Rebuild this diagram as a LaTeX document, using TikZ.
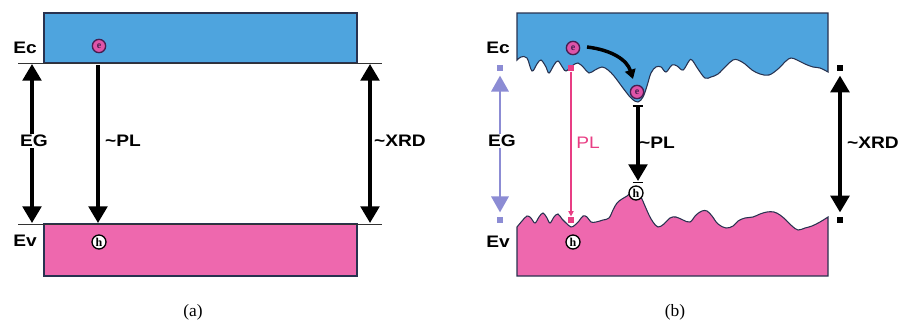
\documentclass[tikz,border=0pt]{standalone}
\usepackage{fontspec}
\setmainfont{Liberation Serif}
\newfontfamily\labfont[FakeStretch=1.15]{Liberation Sans}
\usetikzlibrary{arrows.meta,calc}
\definecolor{cband}{RGB}{78,164,222}
\definecolor{vband}{RGB}{238,104,174}
\definecolor{bandedge}{RGB}{40,50,80}
\definecolor{efill}{RGB}{222,84,168}
\definecolor{eedge}{RGB}{70,30,80}
\definecolor{plpink}{RGB}{232,62,132}
\definecolor{lav}{RGB}{140,140,212}
\tikzset{
  lbl/.style={font=\labfont\fontsize{12.5}{14}\selectfont\bfseries, inner sep=0pt},
  elec/.style={circle, draw=eedge, fill=efill, line width=1pt, minimum size=10pt, inner sep=0pt,
    font=\fontsize{7.5}{7.5}\selectfont\bfseries, text=eedge},
  hole/.style={circle, draw=black, fill=white, line width=1pt, minimum size=10.5pt, inner sep=0pt,
    font=\fontsize{9}{9}\selectfont\bfseries},
  bigarrow/.style={line width=2.6pt, -{Triangle[length=12.5pt,width=14pt]}},
  bigdarrow/.style={line width=2.6pt, {Triangle[length=12.5pt,width=14pt]}-{Triangle[length=12.5pt,width=14pt]}},
  sq/.style={rectangle, minimum width=4.5pt, minimum height=5pt, inner sep=0pt},
  band/.style={draw=bandedge, line width=0.8pt},
  level/.style={draw=black!80, line width=0.6pt},
  captxt/.style={font=\fontsize{13}{14}\selectfont, inner sep=0pt},
}
\begin{document}
\begin{tikzpicture}[x=0.75pt,y=-0.75pt]
\useasboundingbox (0,0) rectangle (901,325);
% ---------- panel (a) ----------
\draw[band, fill=cband] (44,13) rectangle (357,63);
\draw[band, fill=vband] (44,224) rectangle (357,276);
\draw[level] (18,63) -- (382,63);
\draw[level] (18,224) -- (382,224);
\node[lbl] (ecA) at (25,48) {Ec};
\node[lbl] (evA) at (25,241) {Ev};
\node[elec] (eA) at (99,46) {e};
\node[hole] (hA) at (99,242) {h};
\coordinate (egAt) at (32,64);
\coordinate (egAb) at (32,223);
\coordinate (plAt) at (98,65);
\coordinate (plAb) at (98,223);
\coordinate (xrAt) at (370,64);
\coordinate (xrAb) at (370,223);
\draw[bigdarrow] (egAt) -- (egAb);
\draw[bigarrow] (plAt) -- (plAb);
\draw[bigdarrow] (xrAt) -- (xrAb);
\node[lbl, fill=white, inner sep=1pt] (egA) at (34,141) {EG};
\node[lbl] (plA) at (123,141) {\textasciitilde PL};
\node[lbl] (xrA) at (400,141) {\textasciitilde XRD};
\node[captxt] (capA) at (193,312) {(a)};
% ---------- panel (b) ----------
\draw[band, fill=cband] (828,72) -- (828,13) -- (517,13) -- (517,60)
  -- plot[smooth, tension=0.6] coordinates {(517,60) (521,57) (527,58) (532,71) (537,64) (541,60) (546,67) (549,73) (554,65) (558,61) (563,68) (566,71) (572,66) (578,63) (584,68) (589,73) (595,70) (602,67) (608,70) (614,76) (620,84) (626,92) (632,99) (638,102) (643,97) (647,86) (651,73) (656,67) (661,67) (666,72) (672,65) (677,66) (683,70) (689,61) (692,60) (698,69) (705,78) (711,77) (718,74) (726,66) (733,60) (738,60) (745,64) (752,70) (760,74) (769,75) (778,69) (786,61) (791,58) (797,60) (805,64) (813,67) (820,68) (828,72)} -- cycle;
\draw[band, fill=vband] (828,217) -- (828,276) -- (517,276) -- (517,227)
  -- plot[smooth, tension=0.6] coordinates {(517,227) (522,221) (527,216) (531,218) (535,223) (539,217) (543,213) (547,218) (550,223) (554,217) (558,214) (562,219) (566,223) (571,227) (575,225) (579,221) (583,216) (587,217) (591,222) (596,222) (603,220) (609,218) (613,210) (617,203) (622,199) (627,196) (632,192) (637,191) (641,197) (645,206) (649,215) (653,222) (658,227) (664,224) (670,218) (676,217) (683,220) (690,222) (696,215) (702,211) (707,211) (712,216) (718,224) (726,228) (733,226) (738,221) (745,218) (753,217) (760,214) (767,212) (774,212) (780,215) (786,220) (792,226) (798,230) (805,228) (812,226) (820,222) (828,217)} -- cycle;
\node[lbl] (ecB) at (498,48) {Ec};
\node[lbl] (evB) at (498,242) {Ev};
% EG (lavender)
\node[sq, fill=lav] (sqEGt) at (500,68) {};
\node[sq, fill=lav] (sqEGb) at (500,220) {};
\draw[line width=1.8pt, lav, {Triangle[length=12pt,width=13pt]}-{Triangle[length=12pt,width=13pt]}] ([yshift=-3pt]sqEGt.south) -- ([yshift=3pt]sqEGb.north);
\node[lbl, fill=white, inner sep=1pt] (egB) at (502,141) {EG};
% PL (pink)
\node[elec] (e1) at (573,48) {e};
\node[sq, fill=plpink] (sqPLt) at (571,68) {};
\node[sq, fill=plpink] (sqPLb) at (571,220) {};
\node[hole] (h1) at (573,242) {h};
\draw[plpink, line width=0.8pt, -{Triangle[length=4pt,width=4pt]}] (sqPLt.south) -- (sqPLb.north);
\node[lbl, text=plpink, font=\labfont\fontsize{12.5}{14}\selectfont] (plB) at (588,143) {PL};
% relaxed electron and ~PL
\node[elec] (e2) at (637,92) {e};
\node[hole] (h2) at (636,193) {h};
\coordinate (arcS) at (587,47);
\coordinate (arcE) at (633,79);
\draw[line width=2.6pt, -{Triangle[length=7pt,width=8pt]}] (arcS) .. controls (612,50) and (627,60) .. (arcE);
\coordinate (plBt) at (638,106);
\coordinate (plBb) at (638,181);
\draw[line width=0.8pt] ([xshift=-4pt]plBt) -- ([xshift=4pt]plBt);
\draw[bigarrow, shorten <=1pt] (plBt) -- (plBb);
\draw[line width=0.8pt] ($(plBb)+(-4pt,1.5)$) -- ($(plBb)+(4pt,1.5)$);
\node[lbl] (plB2) at (657,143) {\textasciitilde PL};
% ~XRD
\node[sq, fill=black] (sqXt) at (840,68) {};
\node[sq, fill=black] (sqXb) at (840,220) {};
\draw[bigdarrow] ([yshift=-3pt]sqXt.south) -- ([yshift=3pt]sqXb.north);
\node[lbl] (xrB) at (873,143) {\textasciitilde XRD};
\node[captxt] (capB) at (675,312) {(b)};
\end{tikzpicture}
\end{document}
